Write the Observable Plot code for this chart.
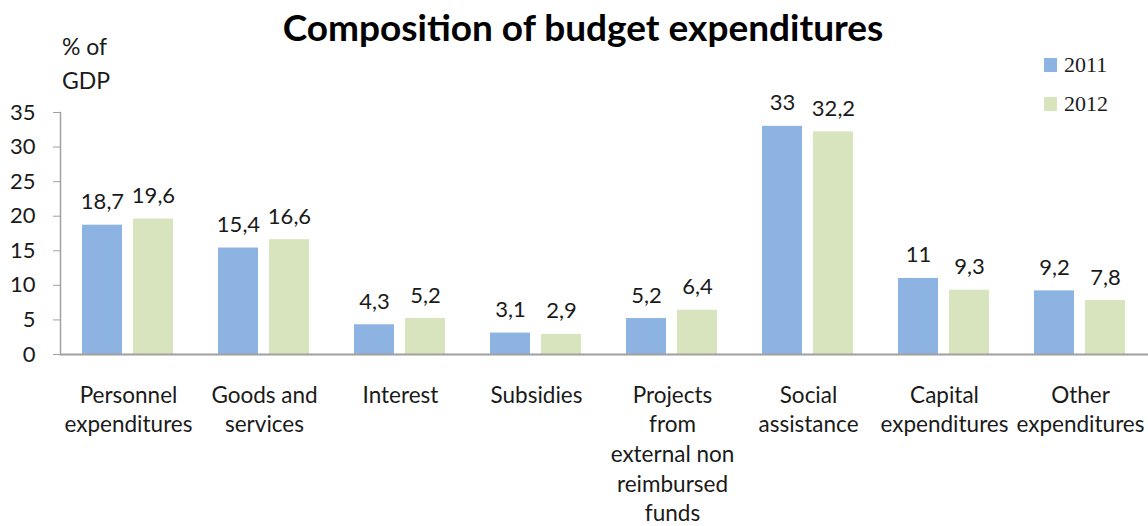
<!DOCTYPE html>
<html>
<head>
<meta charset="utf-8">
<script src="https://cdn.jsdelivr.net/npm/d3@7"></script>
<script src="https://cdn.jsdelivr.net/npm/@observablehq/plot@0.6"></script>
<style>
  body { margin: 0; background: #fff; }
  #wrap { position: relative; width: 1148px; height: 526px; overflow: hidden; font-family: Lato, "Open Sans", sans-serif; color: #1a1a1a; }
  #title { position: absolute; left: 0; width: 1166px; top: 4px; text-align: center; font-weight: bold; font-size: 37px; color: #000; }
  #ylab { position: absolute; left: 62px; top: 29px; font-size: 23px; line-height: 34px; }
  #legend { position: absolute; left: 1044px; top: 45px; font-family: "Liberation Serif", serif; font-size: 22px; }
  .li { display: flex; align-items: center; height: 39px; }
  .sw { width: 13px; height: 14px; margin-right: 7px; }
  #chart { position: absolute; left: 0; top: 0; }
</style>
</head>
<body>
<div id="wrap">
  <div id="chart"></div>
  <div id="title">Composition of budget expenditures</div>
  <div id="ylab">% of<br>GDP</div>
  <div id="legend"></div>
</div>
<script>
const categories = [
  "Personnel\nexpenditures",
  "Goods and\nservices",
  "Interest",
  "Subsidies",
  "Projects\nfrom\nexternal non\nreimbursed\nfunds",
  "Social\nassistance",
  "Capital\nexpenditures",
  "Other\nexpenditures"
];
const years = ["2011", "2012"];
const values2011 = [18.7, 15.4, 4.3, 3.1, 5.2, 33, 11, 9.2];
const values2012 = [19.6, 16.6, 5.2, 2.9, 6.4, 32.2, 9.3, 7.8];
const colors = ["#8db3e2", "#d7e4bd"];
const yTicks = [0, 5, 10, 15, 20, 25, 30, 35];

const data = [];
categories.forEach((c, i) => {
  data.push({category: c, year: years[0], value: values2011[i]});
  data.push({category: c, year: years[1], value: values2012[i]});
});
const fmt = v => String(v).replace(".", ",");

const chart = Plot.plot({
  width: 1148,
  height: 526,
  marginLeft: 60,
  marginRight: 0,
  marginTop: 112,
  marginBottom: 172,
  style: {fontFamily: "Lato, 'Open Sans', sans-serif", fontSize: "20px", color: "#1a1a1a", background: "transparent", overflow: "visible"},
  fx: {domain: categories, padding: 0, axis: null},
  x: {domain: years, axis: null, paddingInner: 0.21, paddingOuter: 0.42},
  y: {domain: [0, 35], axis: null},
  color: {domain: years, range: colors},
  marks: [
    Plot.barY(data, {fx: "category", x: "year", y: "value", fill: "year"}),
    Plot.text(data, {fx: "category", x: "year", y: "value", text: d => fmt(d.value), lineAnchor: "bottom", dy: -16, fontSize: 22, fill: "#1a1a1a"}),
    Plot.text(categories, {fx: d => d, text: d => d, frameAnchor: "bottom", lineAnchor: "top", dy: 27, lineHeight: 1.32, fontSize: 22.5, fill: "#1a1a1a"}),
    Plot.ruleY([0], {stroke: "#a0a0a0", strokeWidth: 2}),
    Plot.frame({anchor: "left", stroke: "#a0a0a0", strokeWidth: 1.5, facetAnchor: "left"}),
    Plot.axisY(yTicks, {ticks: yTicks, tickSize: 7, tickPadding: 18, stroke: "#a0a0a0", strokeOpacity: 1, fontSize: 22, fill: "#1a1a1a", label: null, tickFormat: d => d})
  ]
});
document.getElementById("chart").appendChild(chart);

const legend = document.getElementById("legend");
years.forEach((y, i) => {
  const row = document.createElement("div");
  row.className = "li";
  const sw = document.createElement("div");
  sw.className = "sw";
  sw.style.background = colors[i];
  const t = document.createElement("span");
  t.textContent = y;
  row.appendChild(sw);
  row.appendChild(t);
  legend.appendChild(row);
});
</script>
</body>
</html>
